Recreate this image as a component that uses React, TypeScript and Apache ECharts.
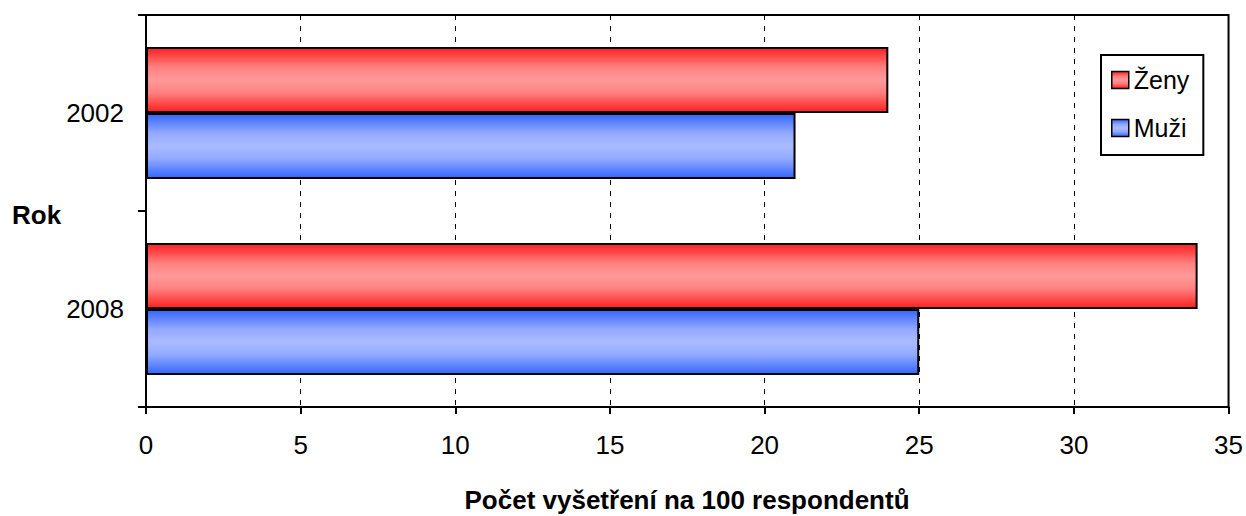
import React, { useEffect, useRef } from "react";
import * as echarts from "echarts";

const categories = ["2002", "2008"];
const zenyValues = [24, 34];
const muziValues = [21, 25];
const seriesNames = ["Ženy", "Muži"];
const xMin = 0;
const xMax = 35;
const xInterval = 5;
const xTitle = "Počet vyšetření na 100 respondentů";
const yTitle = "Rok";

const FONT = "Liberation Sans, Arial, sans-serif";

function grad(edge: string, mid: string, mid2: string) {
  return new echarts.graphic.LinearGradient(0, 0, 0, 1, [
    { offset: 0, color: edge },
    { offset: 0.3, color: mid2 },
    { offset: 0.5, color: mid },
    { offset: 0.7, color: mid2 },
    { offset: 1, color: edge },
  ]);
}

export default function App() {
  const ref = useRef<HTMLDivElement>(null);
  useEffect(() => {
    if (!ref.current) return;
    const chart = echarts.init(ref.current, null, { renderer: "svg" });
    chart.setOption({
      animation: false,
      backgroundColor: "#ffffff",
      textStyle: { fontFamily: FONT, color: "#000" },
      grid: {
        left: 146,
        right: 17,
        top: 15,
        bottom: 109,
        show: true,
        borderColor: "#000",
        borderWidth: 2,
        backgroundColor: "transparent",
      },
      legend: {
        orient: "vertical",
        left: 1101,
        top: 55,
        padding: [12, 14, 14, 10],
        itemGap: 22,
        itemWidth: 17,
        itemHeight: 17,
        icon: "rect",
        borderColor: "#000",
        borderWidth: 2,
        backgroundColor: "#fff",
        itemStyle: { borderColor: "#000", borderWidth: 1.5 },
        textStyle: { fontSize: 25, fontFamily: FONT, color: "#000", lineHeight: 26, padding: [0, 0, 0, 0] },
        data: seriesNames,
      },
      xAxis: {
        type: "value",
        min: xMin,
        max: xMax,
        interval: xInterval,
        axisLine: { show: true, lineStyle: { color: "#000", width: 2 } },
        axisTick: { show: true, length: 7, lineStyle: { color: "#000", width: 2 } },
        axisLabel: { fontSize: 26, fontFamily: FONT, color: "#000", margin: 25 },
        splitLine: { show: true, lineStyle: { color: "#000", width: 1, type: [5, 6] } },
      },
      yAxis: {
        type: "category",
        inverse: true,
        data: categories,
        axisLine: { show: true, lineStyle: { color: "#000", width: 2 } },
        axisTick: { show: true, length: 8, lineStyle: { color: "#000", width: 2 } },
        axisLabel: { fontSize: 26, fontFamily: FONT, color: "#000", margin: 22 },
        splitLine: { show: false },
      },
      series: [
        {
          name: seriesNames[0],
          type: "bar",
          data: zenyValues,
          barWidth: 66,
          barGap: "0%",
          itemStyle: { color: grad("#ff1f1f", "#ff9a9a", "#ff8080"), borderColor: "#000", borderWidth: 2 },
        },
        {
          name: seriesNames[1],
          type: "bar",
          data: muziValues,
          barWidth: 66,
          barGap: "0%",
          itemStyle: { color: grad("#3366ff", "#aabbff", "#93a9ff"), borderColor: "#000", borderWidth: 2 },
        },
      ],
      graphic: [
        {
          type: "text",
          x: 12,
          y: 215,
          style: { text: yTitle, font: `bold 26px ${FONT}`, fill: "#000", align: "left", verticalAlign: "middle" },
        },
        {
          type: "text",
          x: 687,
          y: 500,
          style: { text: xTitle, font: `bold 26px ${FONT}`, fill: "#000", align: "center", verticalAlign: "middle" },
        },
      ],
    });
    return () => chart.dispose();
  }, []);
  return (
    <div
      ref={ref}
      style={{ position: "fixed", left: 0, top: 0, width: 1246, height: 516 }}
    />
  );
}
